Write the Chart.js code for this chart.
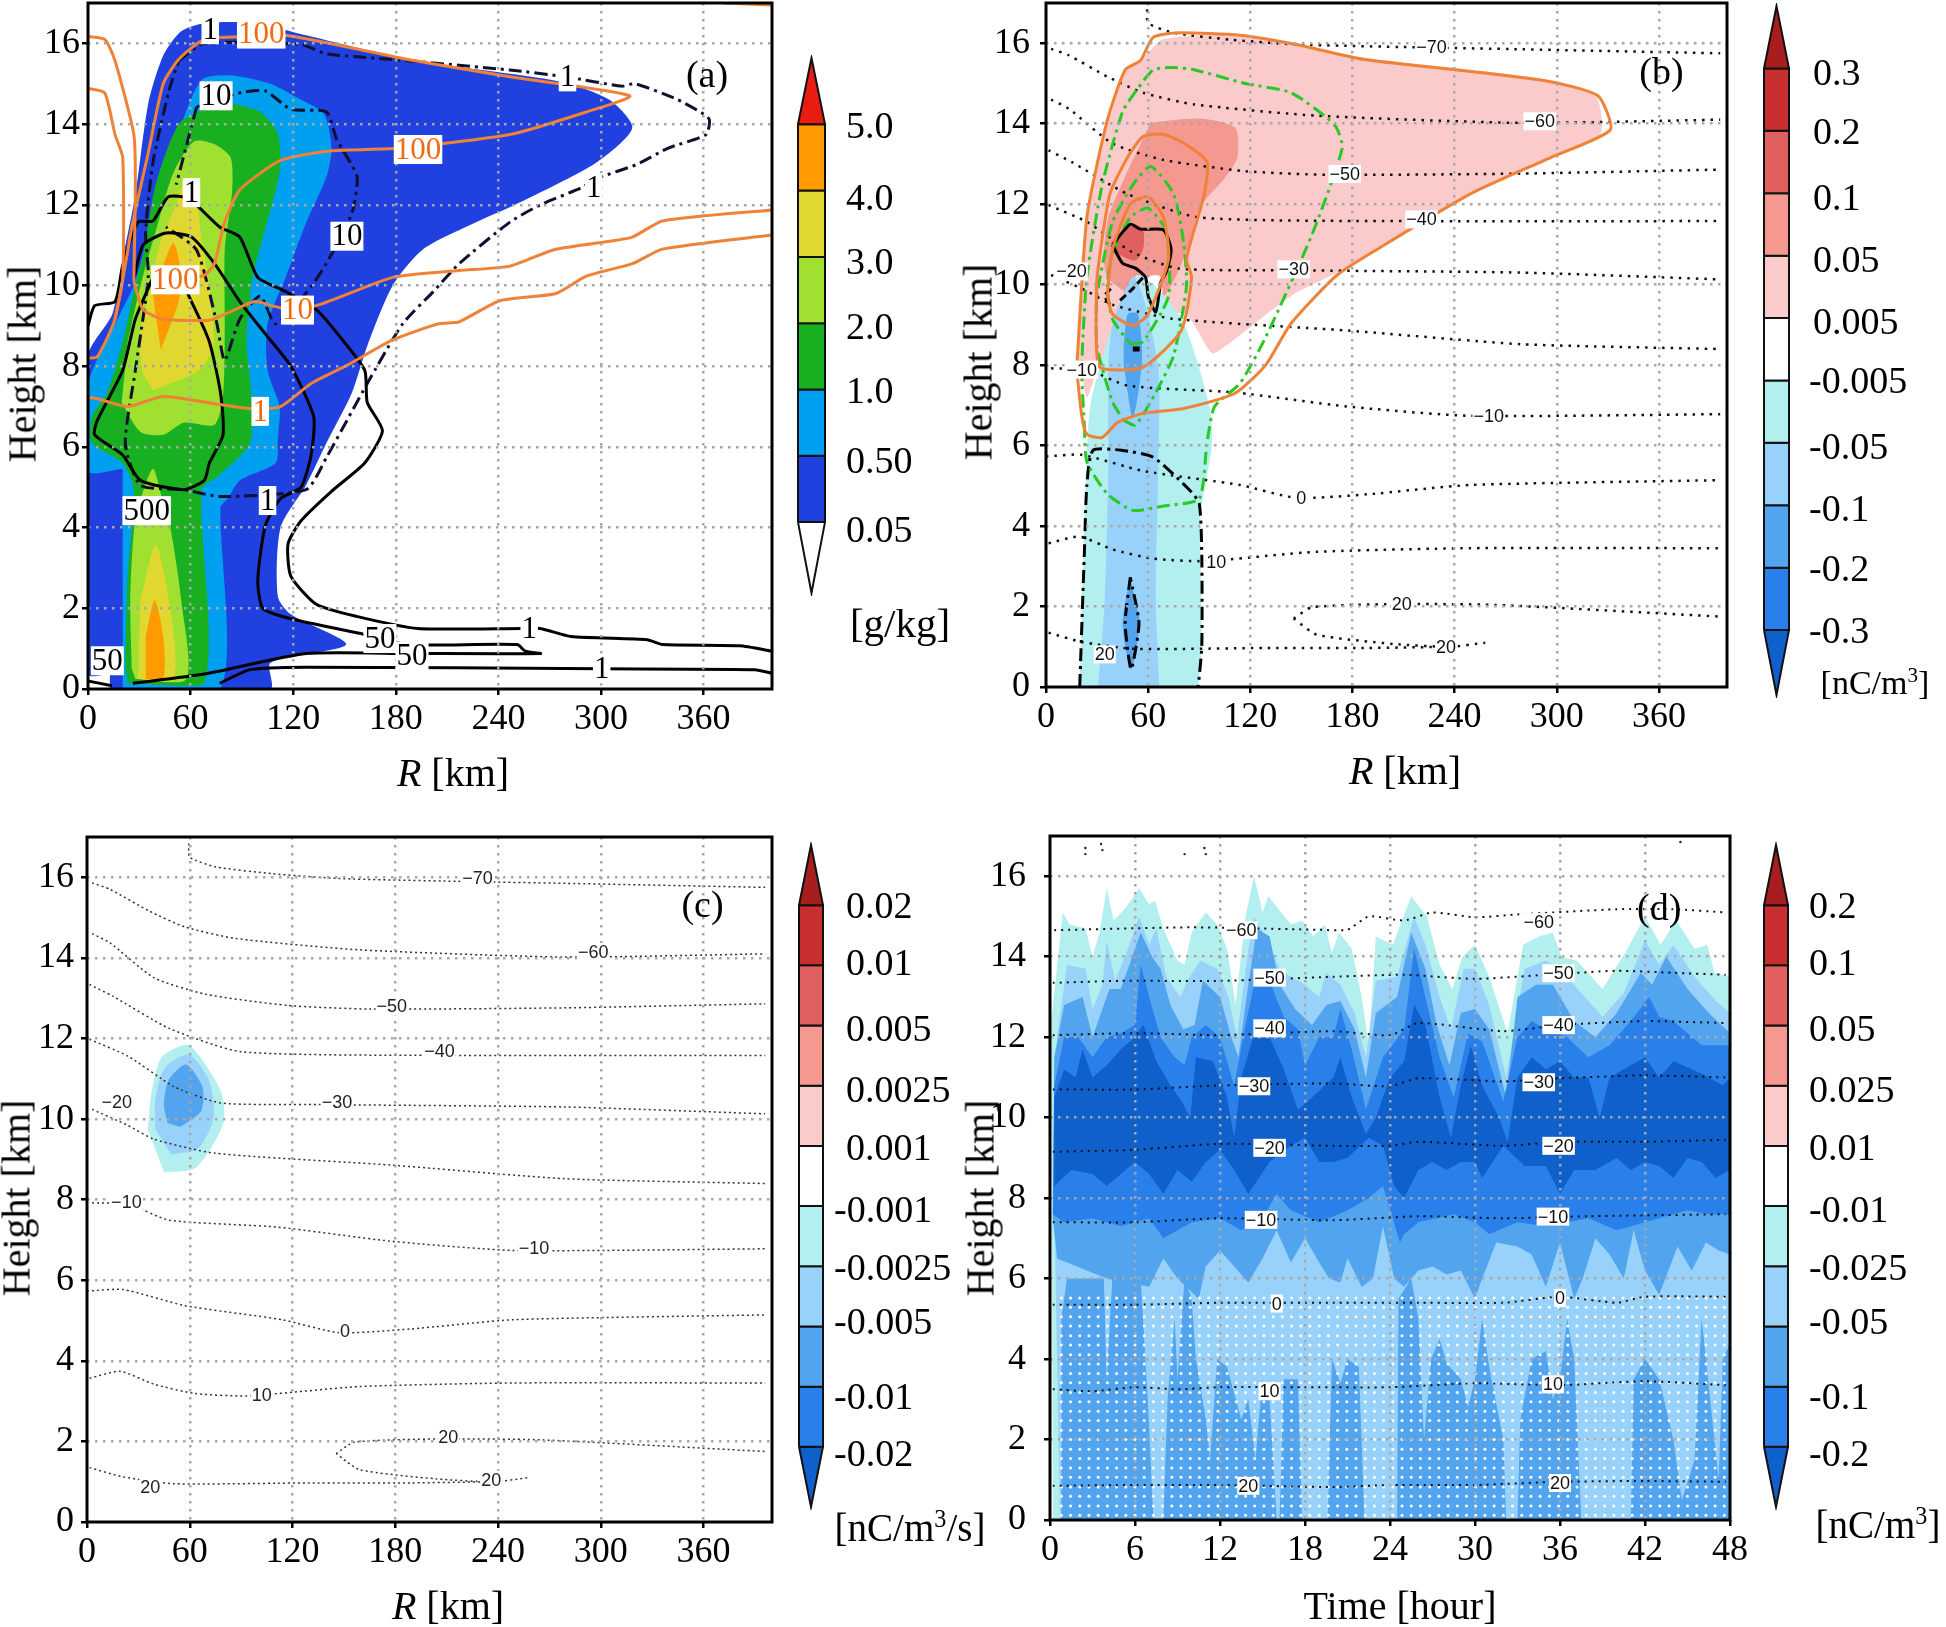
<!DOCTYPE html>
<html>
<head>
<meta charset="utf-8">
<script src="https://cdn.jsdelivr.net/npm/chart.js@4/dist/chart.umd.min.js"></script>
<style>
  html, body { margin: 0; background: #fff; overflow: hidden; }
  #page { position: relative; width: 1946px; height: 1627px; font-family: "Liberation Serif", serif; color: #000; }
  #page canvas { position: absolute; }
  .txt { position: absolute; white-space: nowrap; transform: translate(-50%, -50%); z-index: 5; }
  .rot { transform: translate(-50%, -50%) rotate(-90deg); }
  sup { font-size: 62%; line-height: 0; }
</style>
</head>
<body>
<div id="page"></div>
<script>
// ---- panel (a) filled contours, [R km, height km]
const qBlue = [[12.8,0],[106.7,0],[106.7,0.65],[151,1.1],[118.6,1.85],[111,2.3],[112.6,4],[127.5,5.05],[139.5,6.1],[154.4,7.35],[163.3,8.5],[178.2,10],[196,10.9],[226,11.55],[249.7,12],[297.4,13.05],[318.3,13.9],[304.9,14.6],[276.5,15.05],[187,15.6],[127.5,16.2],[97.7,16.5],[68,16.5],[54.5,16.3],[44,15.7],[35.2,14.5],[27.7,12.25],[20.3,10.65],[14.3,9.3],[0,8.25],[0,0.37],[12.8,0.37]];
const qSky = [[20.3,0],[77.5,0],[77.5,4.5],[81.4,4.7],[88.8,5.17],[109.7,5.6],[111,6.2],[112,7],[105,7.9],[105,9.05],[115.6,10.2],[127.5,11.55],[139.5,12.7],[142.4,13.4],[138,14.25],[124.6,14.6],[106.7,15],[85.8,15.2],[74,15.2],[66.5,15.1],[59,14.5],[50,13.4],[41,12.1],[33.7,11],[26.8,10],[18.8,9.3],[0,7.55],[0,5.4],[20.3,5.45]];
const qGreen = [[23.2,0.14],[68,0.14],[66.5,4.95],[76.9,5.3],[94.8,6.1],[95.4,7.35],[92.7,8.6],[96.3,10.2],[112,12.8],[111,13.75],[100.7,14.3],[82.8,14.5],[66.5,14.35],[53,14],[39.6,12.5],[32.2,10.75],[26.8,9.85],[20.3,8.6],[11.3,7.35],[2.4,6.75],[2.4,6.1],[20.3,5.6],[26.8,4.95],[23.2,2.77],[21.8,0.6]];
const qLime1 = [[19.7,7.1],[30.7,6.37],[44,6.3],[56,6.6],[74,6.55],[79,7.3],[80,9.05],[80,10.9],[84.3,12.35],[83.4,13.17],[74,13.5],[62,13.57],[50,12.8],[41,11.55],[30.7,10],[23.2,8.6]];
const qLime2 = [[27.7,0.25],[57.5,0.25],[54.5,2.2],[48.6,3.9],[44,4.6],[38,5.45],[30,4.6],[26.8,3.9],[24.7,2.2],[25.6,0.5]];
const qYellow1 = [[38,7.4],[50,7.6],[65,7.9],[73.3,8.5],[71,10],[66.5,11.1],[63.5,12],[56,12.5],[51.6,12],[42.6,11.1],[35.2,9.75],[29.8,8.6],[32.2,7.8]];
const qYellow2 = [[29.2,0.25],[50,0.25],[48.6,1.85],[39.6,3.57],[30.7,2.2]];
const qOrange1 = [[42.6,8.4],[53,9.6],[54.5,10.3],[50,11.05],[44,10.5],[38,9.75]];
const qOrange2 = [[33.7,0.25],[44,0.25],[44,1.3],[39,2.2],[33.7,1.3]];

// ---- panel (a) contour lines
const aOrange100 = [[0,8.2],[5.4,8.23],[15.8,9.17],[26.2,11.57],[35.2,13.28],[44,15],[53,15.6],[68,16.1],[88.8,16.16],[115.6,16.2],[187,15.6],[246.7,15.17],[316.8,14.7],[291.4,14.3],[246.7,13.74],[181,13.4],[142.4,13.34],[112.6,13.1],[88.8,12.37],[79.9,11.57],[73.9,10.54],[68,10.25],[59,10.2]];
const aOrange10 = [[26.8,10.1],[32.2,9.4],[44,9.17],[71,9.14],[82.8,9.34],[97.7,9.6],[112.6,9.45],[133.5,9.5],[178.2,10.2],[217,10.37],[246.7,10.48],[272,10.88],[297.4,11.05],[318.3,11.2],[336,11.6],[400,11.87]];
const aOrangeLeft1 = [[0,16.17],[9.8,16.1],[15.8,15.57],[26.8,13.74],[27.7,12.5],[26.8,10.1]];
const aOrangeLeft2 = [[0,14.88],[9.8,14.77],[15.8,13.74],[20.3,13.17],[20.3,10.2],[15.8,9.17]];
const aOrange1 = [[0,7.22],[5,7.2],[23.2,7],[44,7.25],[74,7.07],[96.3,6.94],[112.6,7],[130.5,7.57],[151.4,8.02],[178.2,8.65],[205,9.05],[217,9.1],[240.8,9.62],[273.6,9.8],[291.4,10.23],[318.3,10.54],[336,10.9],[400,11.25]];
const aOrangeCorner = [[372,17],[400,16.95]];
const aBlackOuter = [[0,9],[3.9,9.5],[15.8,9.6],[20.3,10.5],[29.2,11.57],[38,11.6],[47,12.2],[59,12.15],[77,11.45],[88.8,11.2],[99.3,10.2],[115.6,9.85],[133.5,9.4],[145.4,8.83],[161.8,7.9],[163.3,7.1],[172.2,6.4],[161.8,5.6],[142.4,4.9],[124.6,4.17],[117,3.6],[118.6,2.8],[133.5,2.1],[157,1.8],[193,1.5],[254,1.5],[264.6,1.5],[282.5,1.3],[327,1.22],[336,1.1],[381,1.07],[400,0.94]];
const aBlackMid = [[27,10.2],[32.2,11],[45.6,11.3],[60.5,11.2],[74,10.54],[88.8,9.6],[103.7,8.8],[118.6,8],[132,6.75],[130.5,5.8],[124.6,5],[112.6,4.72],[103.7,4.05],[99.3,2.7],[102.2,2],[118.6,1.74],[163.3,1.34],[187,1.1],[251,1.1],[255.7,0.94],[264.6,0.88],[187,0.88],[127.5,0.88],[68,0.37],[26.2,0.14]];
const aBlackInner = [[38,10.2],[27.7,9.17],[20.3,7.9],[5.4,6.65],[3.9,6.3],[20.3,5.8],[30.7,5.17],[56,4.94],[68,5.17],[71,5.6],[79,6.3],[77.5,7.34],[71,8.6],[60.5,9.6],[51.6,10.3],[38,10.2]];
const aBlackFoot = [[0,0.2],[14,0.08]];
const aBlackBase = [[77,0.14],[94.8,0.48],[127.5,0.54],[300,0.5],[390,0.48],[400,0.39]];
const aDashOne = [[53,15.57],[68,16],[124.6,15.97],[139.5,15.74],[187,15.57],[246.7,15.34],[279.5,15.17],[312.3,14.94],[319.8,15],[345,14.6],[363,14.14],[361.5,13.74],[339,13.4],[321,13],[297.4,12.65],[288.5,12.42],[264.6,12],[246.7,11.57],[217,10.54],[202,9.85],[184,9.05],[163.3,7.57],[139.5,5.74],[127.5,4.94],[76.9,4.77],[56,4.94],[30.7,5.05],[21.8,6.08],[27.7,7.9],[35.2,10.2],[33.7,11.34],[38,13.05],[47,14.77],[53,15.57]];
const aDashTen = [[63.5,14.42],[82.8,14.7],[91.8,14.8],[103.7,14.82],[118.6,14.37],[139.5,14.3],[145.4,13.62],[157.3,12.7],[154.4,11.8],[142.4,10.77],[130.5,9.97],[109.7,9.05],[100.7,9.74],[88.8,9.17],[79.9,8.14],[75.4,9.05],[63.5,10.88],[45.6,11.45]];
const aDashShort = [[63.5,14.42],[51.6,12.5]];
const aBlackLabels = [[71.5,16.34,"1"],[280.4,15.17,"1"],[74.9,14.7,"10"],[60.5,12.3,"1"],[295.7,12.42,"1"],[151.4,11.22,"10"],[34.3,4.42,"500"],[105,4.67,"1"],[170.7,1.25,"50"],[258,1.5,"1"],[189.5,0.82,"50"],[300.4,0.5,"1"],[11.3,0.7,"50"]];
const aOrangeLabels = [[101.3,16.23,"100"],[193,13.37,"100"],[51,10.14,"100"],[122.5,9.39,"10"],[100.7,6.88,"1"]];

// ---- panel (b) filled contours
const bPink = [[21,7.89],[24,7.2],[31.5,8],[48,9],[81,9.27],[97.5,8.3],[105,8.46],[144,9.72],[171,10.3],[196.5,10.93],[249,12.25],[297,13.16],[325.5,13.74],[322.5,14.7],[294,15.1],[189,15.63],[114,16.2],[69,16.1],[57,15.63],[48,15.4],[36,14.08],[24,11.67],[18.6,8.1]];
const bSalmon = [[61.5,14.03],[90,14.13],[111,13.9],[112.5,13.17],[105,12.65],[90,11.9],[84,11],[73.5,9.97],[63,9.5],[36,10.2],[36,11.55],[46.5,12.7]];
const bRed = [[39,10.87],[48,11.45],[57,11.33],[57,10.87],[52.5,10.6],[45,10.7]];
const bCyan = [[19.8,0],[21.9,3.3],[24,5.83],[26.4,7.09],[37.5,8.8],[48,9.95],[54,10.24],[64.5,9.95],[81,9.04],[96,6.97],[97.5,6.05],[93,4.9],[90.6,4.22],[91.5,1],[89.4,0]];
const bSky = [[30.6,0],[34.5,2.16],[36.6,5.6],[36.6,7.9],[39,9],[51,10.2],[57,9.72],[66,7.9],[66,5.6],[64.5,2.16],[66.6,0]];
const bMid1 = [[45.6,8.46],[48,9.27],[54,9.27],[56.4,8.12],[51,6.69],[45.6,8]];
const bMid2 = [[49.5,2.73],[45,1.58],[50,0.44],[55.5,1.58]];
const bGap = [[57,10.2],[67,10.2],[68,9.4],[64,9.2],[58,9.7]];

// ---- panel (b) contour lines
const bOrangeOuter = [[18,7.9],[21,6.74],[24,6.28],[33,6.2],[42,6.57],[57,6.8],[81,6.92],[111,7.3],[129,8],[144,9.04],[171,10.24],[196.5,10.93],[249,12.25],[297,13.17],[331.5,13.85],[324,14.7],[294,15.06],[240,15.34],[186,15.6],[147,15.97],[114,16.2],[78,16.26],[63,16.15],[55.5,15.57],[46.5,15.34],[36,14.08],[24,11.67],[18,7.9]];
const bOrangeMid = [[29.4,9.04],[31.5,7.95],[57,7.95],[79.5,8.86],[85.5,10.18],[82.5,10.64],[93,12.25],[94.5,13.05],[81.5,13.5],[69,13.74],[57,13.68],[48,13.17],[37.5,12.25],[30,10.18],[29.4,9.04]];
const bOrangeIn = [[36,9.72],[39,9.27],[51,8.98],[60,9.27],[72,10.64],[69,11.67],[60,12.19],[49.5,12],[39,10.87],[36,9.72]];
const bGreenOuter = [[22.5,6.51],[24,5.6],[36,4.8],[51,4.39],[69,4.5],[90,4.68],[94.5,6.05],[99,6.97],[114,7.55],[129,8.69],[156,11.22],[174,13.4],[169.5,13.97],[144,14.77],[117,15],[87,15.34],[73.5,15.4],[63,15.34],[54,14.88],[45,14.3],[33,12.48],[24,10.18],[21,7.89],[22.5,6.51]];
const bGreenMid = [[45.6,6.63],[52.5,6.51],[64.5,7.32],[75,8.24],[82.5,9.95],[81,11],[75,12.25],[61.5,12.94],[51,12.48],[39,11.55],[30,9.72],[30,8.46],[39,7.09],[45.6,6.63]];
const bGreenIn = [[49.5,8.52],[57,8.58],[72,9.72],[70.5,11.33],[60,11.9],[49.5,11.67],[39,10.76],[36,9.95],[39,9.15],[49.5,8.52]];
const bBlackSolid = [[39,10.99],[49.5,11.5],[55.5,11.38],[69,11.36],[73.5,10.87],[70.5,10.3],[67.5,10.07],[64.5,9.32],[60,9.72],[58.5,10.18],[52.5,10.41],[45,10.53],[39,10.99]];
const bBlackDash1 = [[43.5,9.61],[51,9.9],[57,10.18]];
const bBlackDash2 = [[37.5,9.5],[34.5,9.72],[38,9.9]];
const bBlackBlob = [[51,8.4],[55,8.4]];
const bBlackBig = [[19.8,0],[22.5,3.3],[24,5.02],[27.6,5.88],[45,5.88],[63,5.71],[84,4.91],[90,4.56],[91.5,3.3],[91.5,1],[89.4,0]];
const bBlackLow = [[49.5,2.73],[46.5,1.58],[50,0.44],[54.6,1.58],[49.5,2.73]];
const bTempLabels = [[226.5,15.9,"−70"],[290,14.06,"−60"],[175.5,12.75,"−50"],[220.5,11.62,"−40"],[145.5,10.38,"−30"],[15,10.33,"−20"],[21,7.89,"−10"],[260,6.74,"−10"],[150,4.7,"0"],[100,3.1,"10"],[209,2.06,"20"],[235,1,"20"],[34.5,0.81,"20"]];

// ---- temperature contours, same in (b) and (c)
const t70 = [[59.4,16.84],[60,16.5],[75,16.26],[108,16.09],[147,15.97],[216,15.9],[279,15.85],[396,15.75]];
const t60 = [[3,15.86],[13.5,15.7],[36,15.17],[57,14.77],[87,14.48],[159,14.2],[279,14.02],[396,14.1]];
const t50 = [[3,14.6],[13.5,14.37],[39,13.51],[69,13.1],[117,12.82],[165,12.73],[279,12.76],[396,12.86]];
const t40 = [[1.5,13.34],[15,13.05],[48,12.25],[90,11.67],[210,11.58],[396,11.58]];
const t30 = [[1.5,11.98],[24,11.56],[51,10.8],[78,10.4],[135,10.36],[279,10.3],[396,10.13]];
const t20 = [[3,10.24],[24,9.84],[39,9.5],[75,9.15],[177,8.86],[279,8.52],[396,8.4]];
const t10 = [[3,7.92],[24,7.89],[48,7.49],[111,7.32],[177,6.97],[249,6.74],[396,6.78]];
const t0 = [[0,5.73],[21,5.77],[57,5.37],[114,5.02],[147,4.7],[189,4.79],[249,5.02],[396,5.14]];
const tP10 = [[1.5,3.57],[19.5,3.74],[39,3.42],[63,3.19],[93,3.13],[159,3.36],[249,3.45],[396,3.45]];
const tP20a = [[145.5,1.7],[156,1.98],[204,2.06],[264,2.04],[396,1.75]];
const tP20b = [[145.5,1.7],[159,1.3],[204,1.07],[237,1],[258,1.1]];
const tP20c = [[1.5,1.35],[21,1.12],[51,0.95],[129,0.97],[189,0.97],[237,1]];
const rTempLines = [t70,t60,t50,t40,t30,t20,t10,t0,tP10,tP20a,tP20b,tP20c];

// ---- panel (c)
const cCyan = [[45,8.68],[63.8,8.8],[79.7,9.9],[78.3,10.67],[65,11.6],[58,11.85],[43.5,11.53],[37.7,10.67],[35.5,9.74]];
const cSky = [[49.3,9.12],[65,9.27],[74,10.05],[71,10.98],[59.4,11.6],[45.7,11.29],[39.9,10.5],[39.9,9.74]];
const cMid = [[54.3,9.8],[66.7,10.2],[67.4,10.8],[58,11.35],[47.8,10.98],[44.9,10.36],[47,9.9]];
const cTempLabels = [[228,15.97,"−70"],[295.6,14.14,"−60"],[178,12.8,"−50"],[205.8,11.69,"−40"],[146,10.42,"−30"],[17.4,10.42,"−20"],[23,7.94,"−10"],[261,6.79,"−10"],[150.7,4.74,"0"],[102,3.16,"10"],[211,2.1,"20"],[236,1.05,"20"],[37,0.87,"20"]];

// ---- panel (d) band edges, [hour, height km]
const dCyanTop = [[0.1,12.4],[0.9,15.1],[1.4,14.8],[2.5,14.7],[3,14],[3.5,14.6],[4,15.7],[4.5,14.9],[5.3,15.2],[6.3,15.7],[7,15.3],[7.4,15.4],[8,14.7],[9,13.9],[9.5,13.8],[10,14.6],[11,15.1],[11.8,14.8],[12.5,14.2],[13.1,12.8],[13.8,15],[14.4,16],[15,15.1],[15.4,15.5],[16.1,15.2],[17,14.8],[17.8,14.9],[18.6,14.5],[19.4,14.8],[19.9,14.1],[20.4,14.6],[21.3,14.2],[22,13],[22.5,11.8],[23,14.5],[24.2,14.3],[25.5,15.5],[26.6,15],[27.5,13.8],[28.4,13.2],[29.1,14],[30,14.3],[31,13.5],[32.3,12.1],[33.4,14.3],[34.5,14.5],[35.5,14.6],[36.1,14],[37.2,13.9],[39,13.2],[40.6,14.1],[42,15],[43.1,14.3],[44.2,14.9],[45.5,14.2],[46.4,14.3],[46.9,13.6],[48,13.5]];
const dSkyTop = [[0.3,8],[0.5,12],[1.2,13.8],[2.5,13.7],[3,12.7],[3.7,13.3],[4,14.4],[4.6,13.4],[5.5,14.2],[6.3,15],[7,14.3],[7.5,14.7],[8.2,13.5],[9.2,13],[9.7,13.4],[10.6,13.9],[11.8,13.7],[12.6,13],[13.2,12],[14,14.2],[14.4,15],[15.2,14.5],[16.2,13.7],[17,13.5],[18,13.3],[19,13],[19.5,13.6],[20.5,13.3],[21.5,12.6],[22.3,11.5],[23,13.4],[24.5,13.5],[25.7,15],[26.5,14.3],[27.5,13],[28.3,12.2],[29.2,13.7],[30,13.7],[31,12.8],[32.2,11],[33.5,13.7],[35,13.9],[36,13.7],[37.5,13.1],[39,12.5],[40.5,13.1],[42,14.4],[43,13.8],[44,14.3],[45.5,13.5],[47,12.9],[48,12.6]];
const dMidTop = [[0.3,11.5],[1,12.8],[2.3,13],[3,12],[3.7,12.7],[4.2,13.2],[5,13.2],[6,14.2],[6.4,14.6],[7.2,14],[7.8,13.7],[8.5,12.8],[9.4,12.2],[10.2,12.3],[10.8,13.4],[12,13],[12.8,12],[13.3,11.5],[14,13.3],[14.6,14.7],[15.5,14.5],[16.2,13.3],[17.3,12.7],[18.5,12.3],[19.5,12.8],[20.5,12.9],[21.5,12.2],[22.3,11],[23,12.6],[24.5,13],[25.5,14.6],[26.5,13.7],[27.3,12.3],[28.2,11.3],[29,12.6],[30,12.7],[31,12.2],[32.2,10.5],[33,13],[34.3,13.3],[35.5,13.3],[37,12.4],[38.5,12],[40,12.6],[41.7,13.6],[42.5,13.3],[43.5,14],[45,13.2],[46.5,12.6],[48,12.1]];
const dMidBottom = [[48,6.6],[47.2,6.7],[46.3,6.9],[45.3,6.2],[44.3,6.8],[43,5.6],[42,6.2],[41.2,7.2],[40.5,6],[39.5,6.6],[38.5,7],[37.6,6],[37,5.5],[36,6.9],[35,5.8],[34,6.6],[33,6.8],[31.5,6.9],[30.5,6],[30,5.5],[29,6.2],[28,6.1],[27,6.3],[26,6.2],[25,5.8],[24.3,6],[23.5,7.3],[22.8,6],[22,5.8],[21,6.5],[20.5,5.9],[19.7,6],[19,6.4],[18,7],[17,6.4],[16,7.2],[15,6.5],[14,5.9],[13,6.3],[12,6.7],[11,6.3],[10.5,5.5],[9,6],[8,6.5],[7,5.8],[4,6],[0.5,6.5],[0.2,7.5]];
const dMidLow = [[0.8,0],[0.8,5],[1.2,6],[3.8,6],[4,3.5],[4.4,6],[6.4,6],[6.9,3],[7.3,0],[8,0],[8.3,3],[8.8,5],[9,3.5],[9.5,6],[10,5.5],[10.3,4],[11,2.5],[11.3,1.5],[11.8,4],[12.5,3.8],[13.5,2.5],[14,3],[14.5,1.5],[15,3.5],[15.5,3],[16,0],[16.2,0],[16.5,3.5],[17.5,3.5],[17.8,0],[19.6,0],[19.9,4],[20.5,3.4],[21,4],[21.8,3.8],[22.2,0],[24.5,0],[24.6,5.5],[25.5,6],[26,5],[26.4,2],[26.9,4],[27.5,4.5],[28,3.9],[29,3.5],[29.5,2.8],[30,3.5],[30.5,5],[31,3.8],[32,2],[32.2,0],[33,0],[33.2,2.5],[34,4],[35,4.2],[35.5,3],[36,3.5],[36.5,5],[37,4],[37.5,0],[41,0],[41.2,3.5],[42,4],[43,3.5],[44,2],[44.6,0.5],[45.5,1.5],[46,5],[46.6,3],[47.2,1],[47.5,4],[48,4.4],[48,0]];
const dBlueTop = [[0.3,10.8],[1,12],[2,12],[3,11.5],[4,12],[5,12.1],[6,12.3],[6.4,13.8],[7,13],[7.8,12],[8.8,11.5],[9.5,11.3],[10,12],[11,12.3],[12,12],[13,10.8],[13.8,12.3],[14.4,13.3],[15.5,13.4],[16.5,12.5],[17.5,12.2],[18,11.3],[19,12],[20,12],[20.5,12.7],[21.3,11.7],[22.3,10.2],[23.5,11.5],[25,12.2],[25.7,14.2],[26.5,13],[27.5,11.5],[28.5,10.5],[29.5,12.1],[30.5,11.9],[32,10.4],[33,12],[34,12.4],[35,12.2],[36.5,12],[38,11.5],[39.5,11.8],[41,12.4],[42.3,13],[43,12.5],[44,12.4],[46,11.8],[48,11.8]];
const dBlueBottom = [[48,7.6],[46.5,7.6],[45,7.7],[43,7.5],[41,7.3],[40,7.2],[38,7.5],[36.5,7.4],[35,7.3],[33,7.4],[31,7.1],[30,7.4],[28.5,7.6],[26,7.4],[25,7.1],[24.7,6.9],[23.5,8.3],[22.5,8],[21,7.7],[19,7.4],[17,7.7],[16,8.1],[15,7.5],[13.5,7.2],[12,7.5],[10,7.4],[8,7],[7,7.5],[5,7.3],[3,7.5],[1,7.4],[0.2,7.6]];
const dDarkTop = [[0.3,10.5],[1,11.2],[1.8,11],[2.3,11.7],[3,11],[4,11.3],[5,11.7],[6,12],[6.6,12.3],[7.5,11.4],[8.5,10.8],[9.3,10.4],[9.9,10],[10.3,11.5],[11.5,11.4],[12.5,10.5],[13,9.5],[13.5,11],[14.5,12.2],[15.5,12],[16.5,11.2],[17.5,10.2],[18.5,10.5],[20,11],[20.5,11.5],[21.3,10.5],[22.3,9.6],[23,10],[24,11],[25,11.4],[25.7,12.8],[26.5,12.3],[27.5,10.5],[28.3,9.5],[29,10.8],[29.7,11.8],[30.5,10.8],[31.7,10],[32.3,9.4],[33,11],[34,11.5],[35,11.2],[36,11.4],[37,11],[38,11],[38.8,10],[39.5,11],[41,11.3],[42,11.5],[43,11],[44,11.4],[46,11.1],[47.5,10.8],[48,11]];
const dDarkBottom = [[48,8.7],[47,8.5],[46,8.9],[45,9],[44,8.5],[43,8.8],[42,8.9],[41,8.7],[40,9],[38.5,8.7],[37,8.7],[36,8.1],[35,8.8],[33.5,8.8],[32,9.3],[30.5,8.5],[30,8.9],[29,8.9],[28,8.7],[27,8.9],[26,8.7],[25,8],[24.3,8.3],[23.5,9.3],[22.5,9.5],[21,9],[20,8.9],[19,8.9],[18,9.5],[17,9.3],[15.5,8.9],[14,8.1],[13,8.7],[12,9.2],[11,8.9],[10,8.4],[9,8.7],[8,8.1],[7,8.6],[6,8.9],[5,8.6],[4,8.3],[3,8.6],[1.5,8.7],[0.3,8.3]];
const dT60 = [[0.3,14.66],[10,14.73],[19,14.67],[21,14.67],[22.5,15],[25,14.9],[27,15.1],[30,14.98],[33,15.05],[40,15.18],[44,15.18],[47.7,15.1]];
const dT50 = [[0.2,13.35],[5,13.4],[12,13.4],[20,13.5],[25,13.55],[30,13.45],[35,13.55],[40,13.65],[44,13.6],[47.7,13.55]];
const dT40 = [[0.2,12.05],[6,12.1],[12,12.05],[20,12.15],[24,12.05],[26,12.35],[32,12.15],[36,12.3],[42,12.4],[47.7,12.35]];
const dT30 = [[0.2,10.7],[6,10.7],[12,10.8],[20,10.85],[24,10.78],[26,10.98],[32,10.9],[36,10.98],[42,11.05],[47.7,11]];
const dT20 = [[0.2,9.15],[6,9.2],[12,9.35],[20,9.3],[24,9.3],[26,9.4],[32,9.3],[36,9.4],[42,9.4],[47.7,9.45]];
const dT10 = [[0.2,7.4],[6,7.4],[12,7.5],[20,7.45],[26,7.55],[32,7.5],[38,7.55],[47.7,7.6]];
const dT0 = [[0.2,5.35],[6,5.35],[12,5.4],[20,5.4],[26,5.4],[32,5.4],[36,5.55],[40,5.4],[42,5.55],[47.7,5.55]];
const dTP10 = [[0.2,3.25],[3,3.2],[6,3.3],[9,3.25],[12,3.3],[18,3.3],[24,3.3],[30,3.4],[36,3.35],[42,3.45],[47.7,3.35]];
const dTP20 = [[0.2,0.85],[6,0.87],[12,0.87],[20,0.82],[24,0.87],[30,0.87],[36,0.95],[42,0.97],[47.7,0.95]];
const dTempLines = [dT60,dT50,dT40,dT30,dT20,dT10,dT0,dTP10,dTP20];
const dTempLabels = [[13.5,14.66,"−60"],[34.5,14.86,"−60"],[15.5,13.48,"−50"],[35.9,13.59,"−50"],[15.5,12.22,"−40"],[35.9,12.3,"−40"],[14.4,10.78,"−30"],[34.5,10.88,"−30"],[15.5,9.25,"−20"],[35.9,9.3,"−20"],[14.9,7.46,"−10"],[35.5,7.54,"−10"],[16,5.38,"0"],[36,5.52,"0"],[15.5,3.2,"10"],[35.5,3.37,"10"],[14,0.85,"20"],[36,0.92,"20"]];
const dSpecks = [[2.5,16.7],[2.5,16.55],[3.6,16.8],[3.7,16.65],[9.5,16.55],[10.9,16.7],[11,16.55],[44.5,16.85]];
const stippleTimes = [0.8,1.45,2.1,2.75,3.4,4.05,4.7,5.35,6,6.65,7.3,7.95,8.6,9.25,9.9,10.55,11.2,11.85,12.5,13.15,13.8,14.45,15.1,15.75,16.4,17.05,17.7,18.35,19,19.65,20.3,20.95,21.6,22.25,22.9,23.55,24.2,24.85,25.5,26.15,26.8,27.45,28.1,28.75,29.4,30.05,30.7,31.35,32,32.65,33.3,33.95,34.6,35.25,35.9,36.55,37.2,37.85,38.5,39.15,39.8,40.45,41.1,41.75,42.4,43.05,43.7,44.35,45,45.65,46.3,46.95,47.6];
const stippleHeights = [0.12,0.35,0.59,0.82,1.06,1.29,1.53,1.76,2,2.23,2.47,2.7,2.94,3.17,3.41,3.64,3.88,4.11,4.35,4.58,4.82,5.05,5.29,5.52];

// ---- colour scale labels, bottom to top
const scaleA = ["0.05","0.50","1.0","2.0","3.0","4.0","5.0"];
const scaleB = ["-0.3","-0.2","-0.1","-0.05","-0.005","0.005","0.05","0.1","0.2","0.3"];
const scaleC = ["-0.02","-0.01","-0.005","-0.0025","-0.001","0.001","0.0025","0.005","0.01","0.02"];
const scaleD = ["-0.2","-0.1","-0.05","-0.025","-0.01","0.01","0.025","0.05","0.1","0.2"];
const rainbow = ["#ffffff","#2040e0","#00a0f0","#18b020","#a0e030","#e0d830","#ff9a00","#e81c10"];
const blueRed = ["#1060cc","#2a80ea","#52a4ef","#98d2fa","#b2efee","#ffffff","#fbcaca","#f49890","#e06060","#c83030","#a81e1e"];

const C = { blue: rainbow[1], sky: rainbow[2], green: rainbow[3], lime: rainbow[4], yellow: rainbow[5], orange: rainbow[6],
  nDark: blueRed[0], nBlue: blueRed[1], nMid: blueRed[2], nSky: blueRed[3], nCyan: blueRed[4], pPink: blueRed[6], pSalmon: blueRed[7], pRed: blueRed[8] };
const LINE_ORANGE = "#ef8236", LINE_GREEN = "#26c926";
const DASHDOT = [13, 5, 3, 5];

function xy(pts) { return pts.map(p => ({ x: p[0], y: p[1] })); }
function area(pts, color, tension) {
  return { data: xy(pts), showLine: true, fill: "shape", backgroundColor: color, borderWidth: 0, pointRadius: 0, tension: tension === undefined ? 0.25 : tension };
}
function line(pts, color, width, dash) {
  return { data: xy(pts), showLine: true, fill: false, borderColor: color, borderWidth: width, borderDash: dash || [], pointRadius: 0, tension: 0.2 };
}
function dots(pts, color, r) {
  return { data: xy(pts), showLine: false, pointRadius: r, pointBackgroundColor: color, pointBorderWidth: 0 };
}

// white boxed contour labels and the panel letter, placed through the scales
const annotate = {
  id: "annotate",
  afterDraw(chart, args, opts) {
    const ctx = chart.ctx, xs = chart.scales.x, ys = chart.scales.y, a = chart.chartArea;
    ctx.save();
    (opts.groups || []).forEach(g => {
      ctx.font = g.font;
      ctx.textAlign = "center";
      ctx.textBaseline = "middle";
      g.items.forEach(it => {
        const px = xs.getPixelForValue(it[0]), py = ys.getPixelForValue(it[1]);
        const w = ctx.measureText(it[2]).width;
        ctx.fillStyle = "#fff";
        ctx.fillRect(px - w / 2 - 1, py - g.h / 2, w + 2, g.h);
        ctx.fillStyle = g.color;
        ctx.fillText(it[2], px, py + 1);
      });
    });
    ctx.strokeStyle = "#000";
    ctx.lineWidth = 3;
    ctx.strokeRect(a.left, a.top, a.right - a.left, a.bottom - a.top);
    if (opts.letter) {
      ctx.font = "38px 'Liberation Serif'";
      ctx.textAlign = "center";
      ctx.textBaseline = "middle";
      ctx.fillStyle = "#000";
      ctx.fillText(opts.letter[2], xs.getPixelForValue(opts.letter[0]), ys.getPixelForValue(opts.letter[1]));
    }
    ctx.restore();
  }
};

const page = document.getElementById("page");
function addCanvas(left, top, w, h) {
  const c = document.createElement("canvas");
  c.width = w; c.height = h;
  c.style.left = left + "px"; c.style.top = top + "px";
  c.style.width = w + "px"; c.style.height = h + "px";
  page.appendChild(c);
  return c;
}
function addText(html, x, y, size, cls) {
  const d = document.createElement("div");
  d.className = "txt " + (cls || "");
  d.innerHTML = html;
  d.style.left = x + "px"; d.style.top = y + "px"; d.style.fontSize = size + "px";
  page.appendChild(d);
}

function panel(cfg) {
  const axisW = 80, axisH = 62, pad = 3, rightRoom = 24;
  const w = cfg.right - cfg.left, h = cfg.bottom - cfg.top;
  const canvas = addCanvas(cfg.left - axisW, cfg.top - pad, axisW + w + rightRoom, pad + h + axisH + 4);
  const scale = (max, step, tickPad) => ({
    type: "linear", min: 0, max: max,
    ticks: { stepSize: step, includeBounds: false, autoSkip: false, maxRotation: 0, padding: tickPad, color: "#000", font: { family: "Liberation Serif", size: 36 } },
    grid: { z: 1, lineWidth: 2.5, color: c => c.tick.value === 0 ? "rgba(0,0,0,0)" : "#a8a8a8", tickColor: "#000", tickWidth: 2.5, tickLength: 6, tickBorderDash: [] },
    border: { display: false, dash: [2.5, 5.5] }
  });
  const xs = scale(cfg.xMax, cfg.xStep, 3);
  xs.afterFit = s => { s.height = axisH; s.paddingLeft = 0; s.paddingRight = 0; };
  const ys = scale(17, 2, cfg.yPad);
  ys.afterFit = s => { s.width = axisW; s.paddingTop = 0; s.paddingBottom = 0; };
  new Chart(canvas, {
    type: "scatter",
    data: { datasets: cfg.layers.map((d, i) => Object.assign({ order: -i, spanGaps: true }, d)) },
    options: {
      responsive: false, animation: false, events: [],
      layout: { autoPadding: false, padding: { top: pad, right: rightRoom, left: 0, bottom: 0 } },
      scales: { x: xs, y: ys },
      plugins: { legend: { display: false }, tooltip: { enabled: false }, annotate: { groups: cfg.groups, letter: cfg.letter } }
    },
    plugins: [annotate]
  });
}

function colorBar(cfg) {
  const pad = 3, labelW = 155, n = cfg.labels.length - 1;
  const w = cfg.width, h = cfg.bottom - cfg.top;
  const canvas = addCanvas(cfg.left - pad, cfg.top - pad, w + labelW + pad * 2, h + pad * 2);
  const edge = { borderColor: "#111", borderWidth: 2, pointRadius: 0, showLine: true, fill: "shape", clip: false };
  const sets = [];
  const tri = (pts, col) => sets.push(Object.assign({ data: xy(pts), backgroundColor: col }, edge));
  tri([[0, 0], [1, 0], [0.5, cfg.yMin], [0, 0]], cfg.colors[0]);
  for (let i = 0; i < n; i++) {
    tri([[0, i], [1, i], [1, i + 1], [0, i + 1], [0, i]], cfg.colors[i + 1]);
  }
  tri([[0, n], [1, n], [0.5, n + 1], [0, n]], cfg.colors[n + 1]);
  const barLabels = {
    id: "barLabels",
    afterDraw(chart) {
      const ctx = chart.ctx, ys = chart.scales.y;
      ctx.save();
      ctx.font = "38px 'Liberation Serif'";
      ctx.fillStyle = "#000";
      ctx.textAlign = "left";
      ctx.textBaseline = "middle";
      cfg.labels.forEach((t, i) => {
        const x = chart.chartArea.right + cfg.gap - (t[0] === "-" ? cfg.negShift : 0);
        ctx.fillText(t, x, ys.getPixelForValue(i) + cfg.nudge[i] + 3);
      });
      ctx.restore();
    }
  };
  new Chart(canvas, {
    type: "scatter",
    data: { datasets: sets.map((d, i) => Object.assign({ order: -i }, d)) },
    options: {
      responsive: false, animation: false, events: [],
      layout: { autoPadding: false, padding: { left: pad, top: pad, bottom: pad, right: labelW + pad } },
      scales: { x: { type: "linear", display: false, min: 0, max: 1 }, y: { type: "linear", display: false, min: cfg.yMin, max: n + 1 } },
      plugins: { legend: { display: false }, tooltip: { enabled: false } }
    },
    plugins: [barLabels]
  });
}

const tempDotsR = rTempLines.map(l => line(l, "#111", 2.5, [2.5, 6]));
const tempDotsC = rTempLines.map(l => line(l, "#333", 1.5, [2, 3]));
const tempDotsD = dTempLines.map(l => line(l, "#111", 2, [2, 5]));
const tempFont = "18px 'Liberation Sans'";

panel({
  left: 88, right: 772, top: 3, bottom: 685, xMax: 400, xStep: 60, yPad: 2,
  letter: [362, 15.17, "(a)"],
  layers: [
    area(qBlue, C.blue), area(qSky, C.sky), area(qGreen, C.green),
    area(qLime1, C.lime), area(qLime2, C.lime), area(qYellow1, C.yellow), area(qYellow2, C.yellow),
    area(qOrange1, C.orange), area(qOrange2, C.orange),
    line(aDashOne, "#101030", 3, DASHDOT), line(aDashTen, "#101030", 3, DASHDOT), line(aDashShort, "#101030", 3, DASHDOT),
    line(aBlackOuter, "#000", 3), line(aBlackMid, "#000", 3), line(aBlackInner, "#000", 3), line(aBlackFoot, "#000", 3), line(aBlackBase, "#000", 3),
    line(aOrange100, LINE_ORANGE, 3), line(aOrange10, LINE_ORANGE, 3), line(aOrangeLeft1, LINE_ORANGE, 3), line(aOrangeLeft2, LINE_ORANGE, 3), line(aOrange1, LINE_ORANGE, 3), line(aOrangeCorner, LINE_ORANGE, 3)
  ],
  groups: [
    { font: "31px 'Liberation Serif'", h: 29, color: "#000", items: aBlackLabels },
    { font: "31px 'Liberation Serif'", h: 29, color: "#f06a10", items: aOrangeLabels }
  ]
});

panel({
  left: 1046, right: 1727, top: 3, bottom: 683, xMax: 400, xStep: 60, yPad: 10,
  letter: [361.5, 15.23, "(b)"],
  layers: [
    area(bPink, C.pPink), area(bSalmon, C.pSalmon), area(bRed, C.pRed), area(bGap, "#ffffff"),
    area(bCyan, C.nCyan), area(bSky, C.nSky), area(bMid1, C.nMid), area(bMid2, C.nMid)
  ].concat(tempDotsR, [
    line(bBlackBig, "#000", 3, DASHDOT), line(bBlackLow, "#000", 3, DASHDOT),
    line(bGreenOuter, LINE_GREEN, 3, DASHDOT), line(bGreenMid, LINE_GREEN, 3, DASHDOT), line(bGreenIn, LINE_GREEN, 3, DASHDOT),
    line(bBlackSolid, "#000", 3), line(bBlackDash1, "#000", 3, [8, 4]), line(bBlackDash2, "#000", 3, [8, 4]), line(bBlackBlob, "#000", 5),
    line(bOrangeOuter, LINE_ORANGE, 3), line(bOrangeMid, LINE_ORANGE, 3), line(bOrangeIn, LINE_ORANGE, 3)
  ]),
  groups: [{ font: tempFont, h: 18, color: "#111", items: bTempLabels }]
});

panel({
  left: 87, right: 772, top: 837, bottom: 1518, xMax: 400, xStep: 60, yPad: 7,
  letter: [359.4, 15.25, "(c)"],
  layers: [area(cCyan, C.nCyan), area(cSky, C.nSky), area(cMid, C.nMid)].concat(tempDotsC),
  groups: [{ font: tempFont, h: 18, color: "#222", items: cTempLabels }]
});

const stipple = [];
stippleTimes.forEach(t => stippleHeights.forEach(h => stipple.push([t, h])));
panel({
  left: 1050, right: 1730, top: 836, bottom: 1516, xMax: 48, xStep: 6, yPad: 18,
  letter: [43, 15.17, "(d)"],
  layers: [
    area(dCyanTop.concat([[48, 0], [0.2, 0]]), C.nCyan, 0),
    area(dSkyTop.concat([[48, 0], [0.7, 0]]), C.nSky, 0),
    area(dMidLow, C.nMid, 0),
    area(dMidTop.concat(dMidBottom), C.nMid, 0),
    area(dBlueTop.concat(dBlueBottom), C.nBlue, 0),
    area(dDarkTop.concat(dDarkBottom), C.nDark, 0),
    dots(stipple, "#ffffff", 1.5)
  ].concat(tempDotsD, [dots(dSpecks, "#222", 1.2)]),
  groups: [{ font: tempFont, h: 18, color: "#111", items: dTempLabels }]
});

colorBar({ left: 798, width: 27, top: 58, bottom: 593, yMin: -1.07, labels: scaleA, colors: rainbow, gap: 21, negShift: 0, nudge: [7, 4, 1, 3, 4, 6, 1] });
colorBar({ left: 1764, width: 25, top: 6, bottom: 695, yMin: -1.04, labels: scaleB, colors: blueRed, gap: 24, negShift: 4, nudge: [0, 0, 3, 3, 0, 3, 3, 4, 0, 4] });
colorBar({ left: 799, width: 24, top: 845, bottom: 1507, yMin: -1, labels: scaleC, colors: blueRed, gap: 23, negShift: 12, nudge: [6, 9, -5, 1, 3, 1, 3, 2, -3, 0] });
colorBar({ left: 1764, width: 24, top: 845, bottom: 1507, yMin: -1, labels: scaleD, colors: blueRed, gap: 21, negShift: 0, nudge: [6, 9, -5, 1, 3, 1, 3, 2, -3, 0] });

addText("Height [km]", 22, 364, 40, "rot");
addText("Height [km]", 978, 362, 40, "rot");
addText("Height [km]", 16, 1198, 40, "rot");
addText("Height [km]", 980, 1198, 40, "rot");
addText("<i>R</i> [km]", 453, 772, 40);
addText("<i>R</i> [km]", 1405, 770, 40);
addText("<i>R</i> [km]", 448, 1605, 40);
addText("Time [hour]", 1400, 1605, 40);
addText("[g/kg]", 900, 623, 41);
addText("[nC/m<sup>3</sup>]", 1875, 683, 34);
addText("[nC/m<sup>3</sup>/s]", 910, 1527, 39);
addText("[nC/m<sup>3</sup>]", 1878, 1524, 39);
</script>
</body>
</html>
